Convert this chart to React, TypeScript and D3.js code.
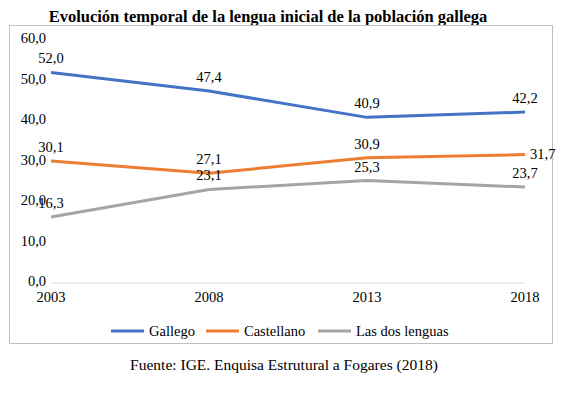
import React from 'react';
import * as d3 from 'd3';

const years = ['2003', '2008', '2013', '2018'];
const gallego = [52.0, 47.4, 40.9, 42.2];
const castellano = [30.1, 27.1, 30.9, 31.7];
const dosLenguas = [16.3, 23.1, 25.3, 23.7];
const yTicks = [0, 10, 20, 30, 40, 50, 60];

const series = [
  { name: 'Gallego', values: gallego, color: '#4472C4' },
  { name: 'Castellano', values: castellano, color: '#ED7D31' },
  { name: 'Las dos lenguas', values: dosLenguas, color: '#A5A5A5' },
];

const W = 566;
const H = 393;
const font = '"Liberation Serif", "DejaVu Serif", serif';
const fmt = (v: number) => v.toFixed(1).replace('.', ',');

export default function App() {
  const svgRef = React.useRef<SVGSVGElement | null>(null);

  React.useEffect(() => {
    const svg = d3.select(svgRef.current);
    svg.selectAll('*').remove();

    const x = d3.scalePoint<string>().domain(years).range([51, 525]);
    const y = d3.scaleLinear().domain([0, 60]).range([283, 40]);

    // Title
    svg.append('text')
      .attr('x', 268).attr('y', 22)
      .attr('text-anchor', 'middle')
      .attr('font-family', font).attr('font-weight', 'bold').attr('font-size', 16.5)
      .attr('fill', '#000')
      .text('Evolución temporal de la lengua inicial de la población gallega');

    // Chart frame
    svg.append('rect')
      .attr('x', 9.5).attr('y', 25.5).attr('width', 543).attr('height', 318)
      .attr('fill', '#fff').attr('stroke', '#BFBFBF');

    // Zero gridline
    svg.append('line')
      .attr('x1', 51).attr('x2', 525)
      .attr('y1', y(0)).attr('y2', y(0))
      .attr('stroke', '#D9D9D9');

    // Y labels
    svg.append('g')
      .selectAll('text')
      .data(yTicks)
      .join('text')
      .attr('x', 46).attr('y', d => y(d) + 3)
      .attr('text-anchor', 'end')
      .attr('font-family', font).attr('font-size', 14.5).attr('fill', '#000')
      .text(d => fmt(d));

    // X labels
    svg.append('g')
      .selectAll('text')
      .data(years)
      .join('text')
      .attr('x', d => x(d)!).attr('y', 302)
      .attr('text-anchor', 'middle')
      .attr('font-family', font).attr('font-size', 14.5).attr('fill', '#000')
      .text(d => d);

    const line = d3.line<number>()
      .x((_, i) => x(years[i])!)
      .y(d => y(d));

    series.forEach(s => {
      svg.append('path')
        .datum(s.values)
        .attr('fill', 'none')
        .attr('stroke', s.color)
        .attr('stroke-width', 3)
        .attr('stroke-linejoin', 'round')
        .attr('d', line);
    });

    // Data labels
    series.forEach(s => {
      s.values.forEach((v, i) => {
        const right = s.name === 'Castellano' && i === years.length - 1;
        svg.append('text')
          .attr('x', right ? x(years[i])! + 5 : x(years[i])!)
          .attr('y', right ? y(v) + 4 : y(v) - 9)
          .attr('text-anchor', right ? 'start' : 'middle')
          .attr('font-family', font).attr('font-size', 14.5).attr('fill', '#000')
          .text(fmt(v));
      });
    });

    // Legend
    const legendX = [111, 206, 318];
    series.forEach((s, i) => {
      const g = svg.append('g').attr('transform', `translate(${legendX[i]},331)`);
      g.append('line').attr('x1', 0).attr('x2', 33).attr('y1', 0).attr('y2', 0)
        .attr('stroke', s.color).attr('stroke-width', 3);
      g.append('text').attr('x', 38).attr('y', 5)
        .attr('font-family', font).attr('font-size', 14.5).attr('fill', '#000')
        .text(s.name);
    });

    // Source
    svg.append('text')
      .attr('x', 284).attr('y', 370)
      .attr('text-anchor', 'middle')
      .attr('font-family', font).attr('font-size', 15.5).attr('fill', '#000')
      .text('Fuente: IGE. Enquisa Estrutural a Fogares (2018)');
  }, []);

  return (
    <svg
      ref={svgRef}
      width={W}
      height={H}
      style={{ position: 'absolute', left: 0, top: 0, background: '#fff' }}
    />
  );
}
